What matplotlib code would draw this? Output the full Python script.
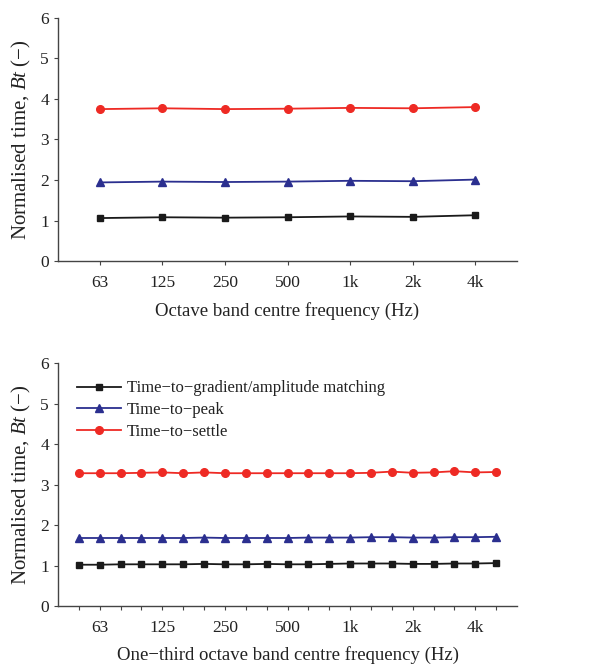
import matplotlib
matplotlib.use("Agg")
import matplotlib.pyplot as plt
import numpy as np

plt.rcParams['font.family'] = ['Liberation Serif', 'DejaVu Serif']
plt.rcParams['mathtext.fontset'] = 'custom'
plt.rcParams['mathtext.it'] = 'Liberation Serif:italic'
plt.rcParams['mathtext.rm'] = 'Liberation Serif'

# octave bands
octLabels = ["63", "125", "250", "500", "1k", "2k", "4k"]
octMatch = [1.06, 1.08, 1.07, 1.08, 1.10, 1.09, 1.13]
octPeak = [1.94, 1.96, 1.95, 1.96, 1.98, 1.97, 2.01]
octSettle = [3.75, 3.77, 3.75, 3.76, 3.78, 3.77, 3.80]

# one-third octave bands (50 Hz .. 5 kHz)
thirdBands = ["50", "63", "80", "100", "125", "160", "200", "250", "315", "400", "500",
              "630", "800", "1k", "1.25k", "1.6k", "2k", "2.5k", "3.15k", "4k", "5k"]
thirdLabels = ["63", "125", "250", "500", "1k", "2k", "4k"]
thirdMatch = [1.02, 1.02, 1.03, 1.03, 1.03, 1.03, 1.04, 1.03, 1.03, 1.04, 1.03,
              1.03, 1.04, 1.05, 1.05, 1.05, 1.04, 1.04, 1.05, 1.05, 1.06]
thirdPeak = [1.68, 1.68, 1.68, 1.68, 1.68, 1.68, 1.69, 1.68, 1.68, 1.68, 1.68,
             1.69, 1.69, 1.69, 1.70, 1.70, 1.69, 1.69, 1.70, 1.70, 1.71]
thirdSettle = [3.28, 3.28, 3.28, 3.29, 3.30, 3.28, 3.30, 3.28, 3.28, 3.28, 3.28,
               3.28, 3.28, 3.28, 3.29, 3.32, 3.29, 3.30, 3.33, 3.30, 3.31]

names = ["Time\u2212to\u2212gradient/amplitude matching", "Time\u2212to\u2212peak", "Time\u2212to\u2212settle"]
colors = ["#1a1a1a", "#2b2f8f", "#ee2a24"]
markers = ["s", "^", "o"]
sizes = [5, 6, 5.5]

fig = plt.figure(figsize=(6.14, 6.65), dpi=100)
ax1 = fig.add_axes([0.0945, 0.6075, 0.7475, 0.3655])
ax2 = fig.add_axes([0.0945, 0.0887, 0.7475, 0.3653])


def styleAxes(ax):
    ax.spines['top'].set_visible(False)
    ax.spines['right'].set_visible(False)
    for s in ['left', 'bottom']:
        ax.spines[s].set_color('#444444')
        ax.spines[s].set_linewidth(1.0)
    ax.set_ylim(0, 6)
    ax.set_yticks(range(0, 7))
    ax.tick_params(axis='both', which='both', direction='out', length=3, width=0.8,
                   colors='#444444', labelcolor='#222222', labelsize=12.5)
    ax.tick_params(axis='x', pad=7)
    ax.set_ylabel("Normalised time, $Bt$ (\u2212)", fontsize=15, color='#222222', labelpad=5)


# top
x = np.arange(len(octLabels))
for ys, c, m, ms in zip([octMatch, octPeak, octSettle], colors, markers, sizes):
    ax1.plot(x, ys, color=c, marker=m, markersize=ms, linewidth=1.3)
ax1.set_xlim(-0.67, len(octLabels) - 0.33)
ax1.set_xticks(x)
ax1.set_xticklabels(octLabels)
styleAxes(ax1)
ax1.set_xlabel("Octave band centre frequency (Hz)", fontsize=13.5, color='#222222', labelpad=8)

# bottom
x3 = np.arange(len(thirdBands))
for ys, c, m, ms, n in zip([thirdMatch, thirdPeak, thirdSettle], colors, markers, sizes, names):
    ax2.plot(x3, ys, color=c, marker=m, markersize=ms, linewidth=1.3, label=n)
ax2.set_xlim(-1, len(thirdBands))
major = [thirdBands.index(l) for l in thirdLabels]
ax2.set_xticks(major)
ax2.set_xticklabels(thirdLabels)
ax2.set_xticks(x3, minor=True)
styleAxes(ax2)
ax2.set_xlabel("One\u2212third octave band centre frequency (Hz)", fontsize=13.5, color='#222222', labelpad=7)
leg = ax2.legend(loc='upper left', bbox_to_anchor=(0.02, 0.97), frameon=False, fontsize=12,
                 handlelength=2.6, handletextpad=0.4, labelspacing=0.35, borderaxespad=0.2)
for t in leg.get_texts():
    t.set_color('#222222')

fig.savefig("out.png", dpi=100)
